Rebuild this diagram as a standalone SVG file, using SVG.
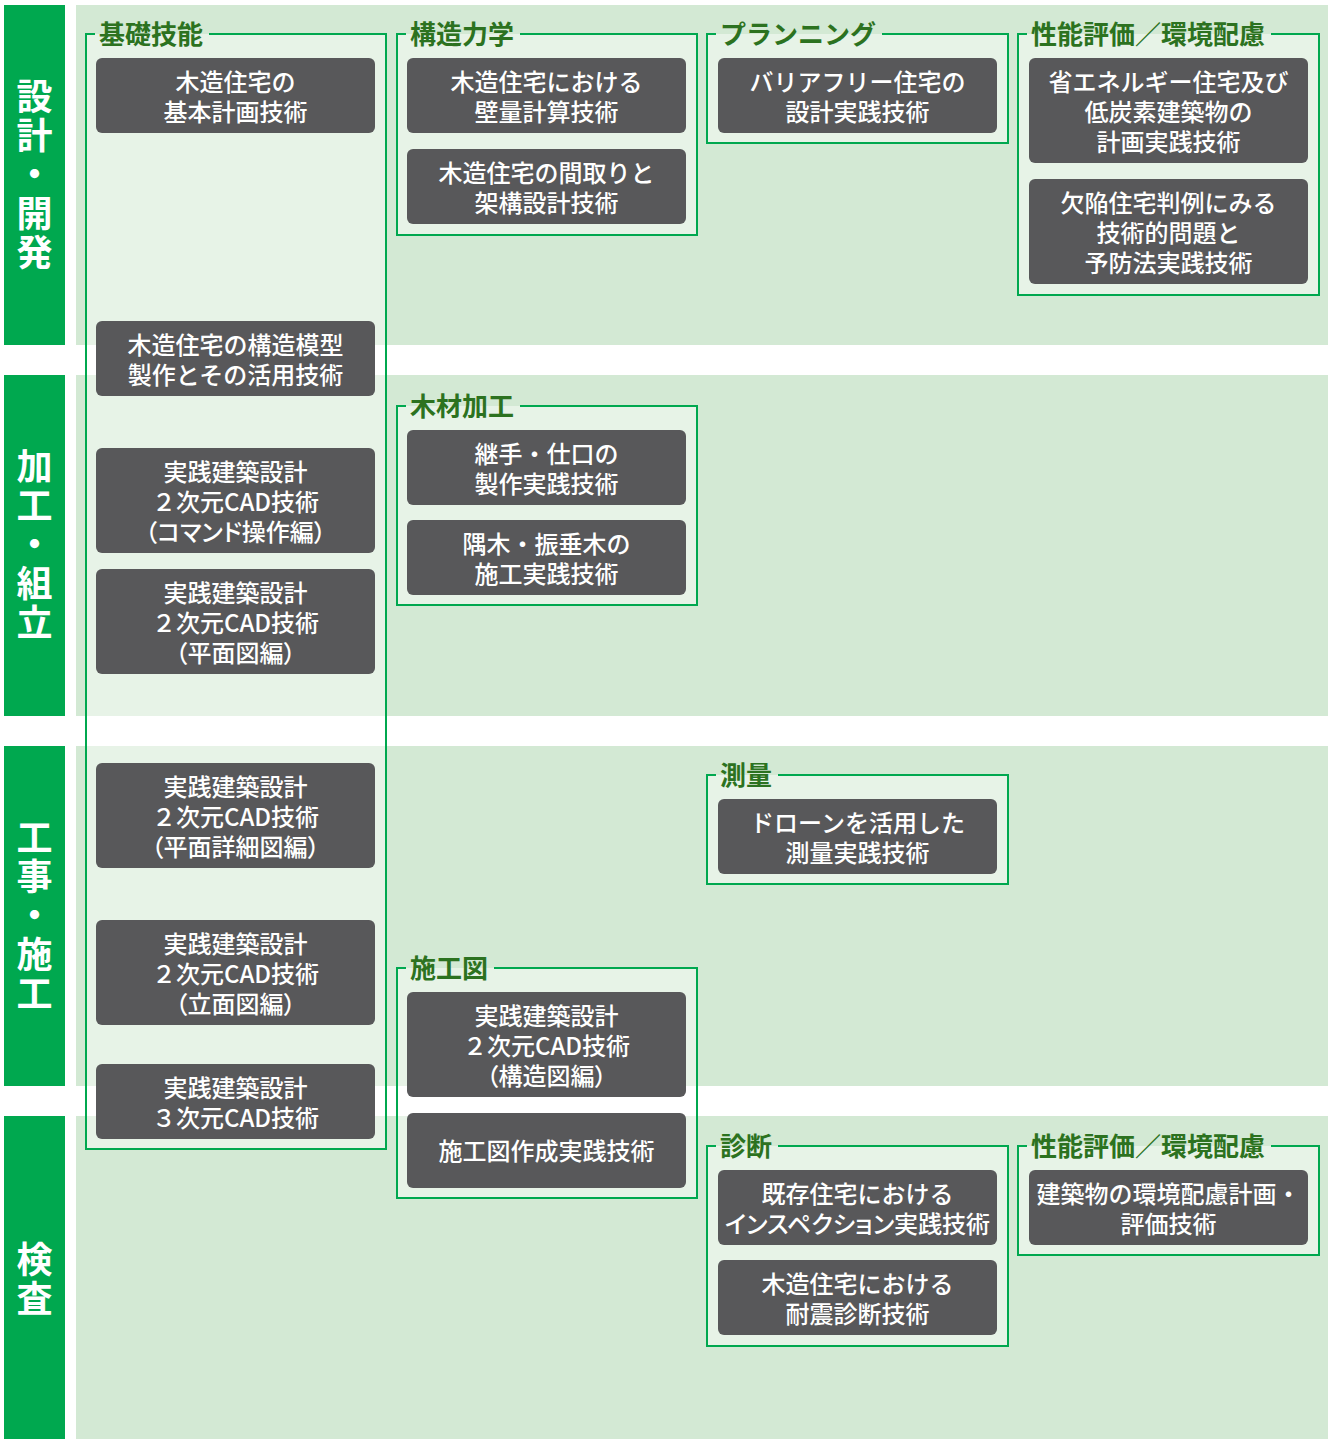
<svg xmlns="http://www.w3.org/2000/svg" width="1335" height="1439" viewBox="0 0 1335 1439">
<style>
text{font-family:"Noto Sans CJK JP","Noto Sans",sans-serif}
.band{fill:#d3e9d4}
.side{fill:#00a84f}
.st{fill:#fff;font-size:36px;font-weight:700;text-anchor:middle;writing-mode:vertical-rl;letter-spacing:3px}
.ff{fill:#fff;fill-opacity:0.45}
.fs{fill:none;stroke:#00a84f;stroke-width:2}
.lb{fill:#2c7220;font-size:26px;font-weight:700}
.nd{fill:#58585a}
.nt{fill:#fff;font-size:24px;font-weight:500;text-anchor:middle}
.pa{font-feature-settings:"palt"}
</style>
<g id="bands">
<rect class="band" x="76" y="5" width="1252" height="340"/>
<rect class="band" x="76" y="375" width="1252" height="341"/>
<rect class="band" x="76" y="746" width="1252" height="340"/>
<rect class="band" x="76" y="1116" width="1252" height="323"/>
</g>
<g id="side-design">
<rect class="side" x="4" y="5" width="61" height="340"/>
<text class="st" x="34.5" y="176">設計・開発</text>
</g>
<g id="side-process">
<rect class="side" x="4" y="375" width="61" height="341"/>
<text class="st" x="34.5" y="546">加工・組立</text>
</g>
<g id="side-construction">
<rect class="side" x="4" y="746" width="61" height="340"/>
<text class="st" x="34.5" y="917">工事・施工</text>
</g>
<g id="side-inspection">
<rect class="side" x="4" y="1116" width="61" height="323"/>
<text class="st" x="34.5" y="1280">検査</text>
</g>

<g id="frame-kiso">
<rect class="ff" x="86" y="34" width="300" height="1115"/>
<path class="fs" d="M209 34H386V1149H86V34H95"/>
<text class="lb" x="99" y="44">基礎技能</text>
</g>
<g id="frame-kozo">
<rect class="ff" x="397" y="34" width="300" height="201"/>
<path class="fs" d="M520 34H697V235H397V34H406"/>
<text class="lb" x="410" y="44">構造力学</text>
</g>
<g id="frame-planning">
<rect class="ff" x="707" y="34" width="301" height="109"/>
<path class="fs" d="M882 34H1008V143H707V34H716"/>
<text class="lb" x="720" y="44">プランニング</text>
</g>
<g id="frame-seino1">
<rect class="ff" x="1018" y="34" width="301" height="261"/>
<path class="fs" d="M1271 34H1319V295H1018V34H1027"/>
<text class="lb" x="1031" y="44">性能評価／環境配慮</text>
</g>
<g id="frame-mokuzai">
<rect class="ff" x="397" y="406" width="300" height="199"/>
<path class="fs" d="M520 406H697V605H397V406H406"/>
<text class="lb" x="410" y="416">木材加工</text>
</g>
<g id="frame-sokuryo">
<rect class="ff" x="707" y="775" width="301" height="109"/>
<path class="fs" d="M778 775H1008V884H707V775H716"/>
<text class="lb" x="720" y="785">測量</text>
</g>
<g id="frame-sekozu">
<rect class="ff" x="397" y="968" width="300" height="230"/>
<path class="fs" d="M494 968H697V1198H397V968H406"/>
<text class="lb" x="410" y="978">施工図</text>
</g>
<g id="frame-shindan">
<rect class="ff" x="707" y="1146" width="301" height="200"/>
<path class="fs" d="M778 1146H1008V1346H707V1146H716"/>
<text class="lb" x="720" y="1156">診断</text>
</g>
<g id="frame-seino2">
<rect class="ff" x="1018" y="1146" width="301" height="109"/>
<path class="fs" d="M1271 1146H1319V1255H1018V1146H1027"/>
<text class="lb" x="1031" y="1156">性能評価／環境配慮</text>
</g>

<g id="node-kihon"><rect class="nd" x="96" y="58" width="279" height="75" rx="6"/><text class="nt" x="235.5" y="91">木造住宅の<tspan x="235.5" dy="30">基本計画技術</tspan></text></g>
<g id="node-mokei"><rect class="nd" x="96" y="321" width="279" height="75" rx="6"/><text class="nt" x="235.5" y="354">木造住宅の構造模型<tspan x="235.5" dy="30">製作とその活用技術</tspan></text></g>
<g id="node-cad-command"><rect class="nd" x="96" y="448" width="279" height="105" rx="6"/><text class="nt" x="235.5" y="481">実践建築設計<tspan x="235.5" dy="30">２次元CAD技術</tspan><tspan class="pa" x="235.5" dy="30">（コマンド操作編）</tspan></text></g>
<g id="node-cad-heimen"><rect class="nd" x="96" y="569" width="279" height="105" rx="6"/><text class="nt" x="235.5" y="602">実践建築設計<tspan x="235.5" dy="30">２次元CAD技術</tspan><tspan class="pa" x="235.5" dy="30">（平面図編）</tspan></text></g>
<g id="node-cad-shosai"><rect class="nd" x="96" y="763" width="279" height="105" rx="6"/><text class="nt" x="235.5" y="796">実践建築設計<tspan x="235.5" dy="30">２次元CAD技術</tspan><tspan class="pa" x="235.5" dy="30">（平面詳細図編）</tspan></text></g>
<g id="node-cad-ritsumen"><rect class="nd" x="96" y="920" width="279" height="105" rx="6"/><text class="nt" x="235.5" y="953">実践建築設計<tspan x="235.5" dy="30">２次元CAD技術</tspan><tspan class="pa" x="235.5" dy="30">（立面図編）</tspan></text></g>
<g id="node-cad-3d"><rect class="nd" x="96" y="1064" width="279" height="75" rx="6"/><text class="nt" x="235.5" y="1097">実践建築設計<tspan x="235.5" dy="30">３次元CAD技術</tspan></text></g>

<g id="node-heki"><rect class="nd" x="407" y="58" width="279" height="75" rx="6"/><text class="nt" x="546.5" y="91">木造住宅における<tspan x="546.5" dy="30">壁量計算技術</tspan></text></g>
<g id="node-madori"><rect class="nd" x="407" y="149" width="279" height="75" rx="6"/><text class="nt" x="546.5" y="182">木造住宅の間取りと<tspan x="546.5" dy="30">架構設計技術</tspan></text></g>
<g id="node-tsugite"><rect class="nd" x="407" y="430" width="279" height="75" rx="6"/><text class="nt" x="546.5" y="463">継手・仕口の<tspan x="546.5" dy="30">製作実践技術</tspan></text></g>
<g id="node-sumigi"><rect class="nd" x="407" y="520" width="279" height="75" rx="6"/><text class="nt" x="546.5" y="553">隅木・振垂木の<tspan x="546.5" dy="30">施工実践技術</tspan></text></g>
<g id="node-cad-kozo"><rect class="nd" x="407" y="992" width="279" height="105" rx="6"/><text class="nt" x="546.5" y="1025">実践建築設計<tspan x="546.5" dy="30">２次元CAD技術</tspan><tspan class="pa" x="546.5" dy="30">（構造図編）</tspan></text></g>
<g id="node-sekozu"><rect class="nd" x="407" y="1113" width="279" height="75" rx="6"/><text class="nt" x="546.5" y="1160">施工図作成実践技術</text></g>

<g id="node-barrierfree"><rect class="nd" x="718" y="58" width="279" height="75" rx="6"/><text class="nt" x="857.5" y="91">バリアフリー住宅の<tspan x="857.5" dy="30">設計実践技術</tspan></text></g>
<g id="node-drone"><rect class="nd" x="718" y="799" width="279" height="75" rx="6"/><text class="nt" x="857.5" y="832">ドローンを活用した<tspan x="857.5" dy="30">測量実践技術</tspan></text></g>
<g id="node-inspection"><rect class="nd" x="718" y="1170" width="279" height="75" rx="6"/><text class="nt" x="857.5" y="1203">既存住宅における<tspan class="pa" x="857.5" dy="30">インスペクション実践技術</tspan></text></g>
<g id="node-taishin"><rect class="nd" x="718" y="1260" width="279" height="75" rx="6"/><text class="nt" x="857.5" y="1293">木造住宅における<tspan x="857.5" dy="30">耐震診断技術</tspan></text></g>

<g id="node-shoene"><rect class="nd" x="1029" y="58" width="279" height="105" rx="6"/><text class="nt" x="1168.5" y="91">省エネルギー住宅及び<tspan x="1168.5" dy="30">低炭素建築物の</tspan><tspan x="1168.5" dy="30">計画実践技術</tspan></text></g>
<g id="node-kekkan"><rect class="nd" x="1029" y="179" width="279" height="105" rx="6"/><text class="nt" x="1168.5" y="212">欠陥住宅判例にみる<tspan x="1168.5" dy="30">技術的問題と</tspan><tspan x="1168.5" dy="30">予防法実践技術</tspan></text></g>
<g id="node-kankyo"><rect class="nd" x="1029" y="1170" width="279" height="75" rx="6"/><text class="nt" x="1168.5" y="1203">建築物の環境配慮計画・<tspan x="1168.5" dy="30">評価技術</tspan></text></g>

<g id="connectors"/>
</svg>
